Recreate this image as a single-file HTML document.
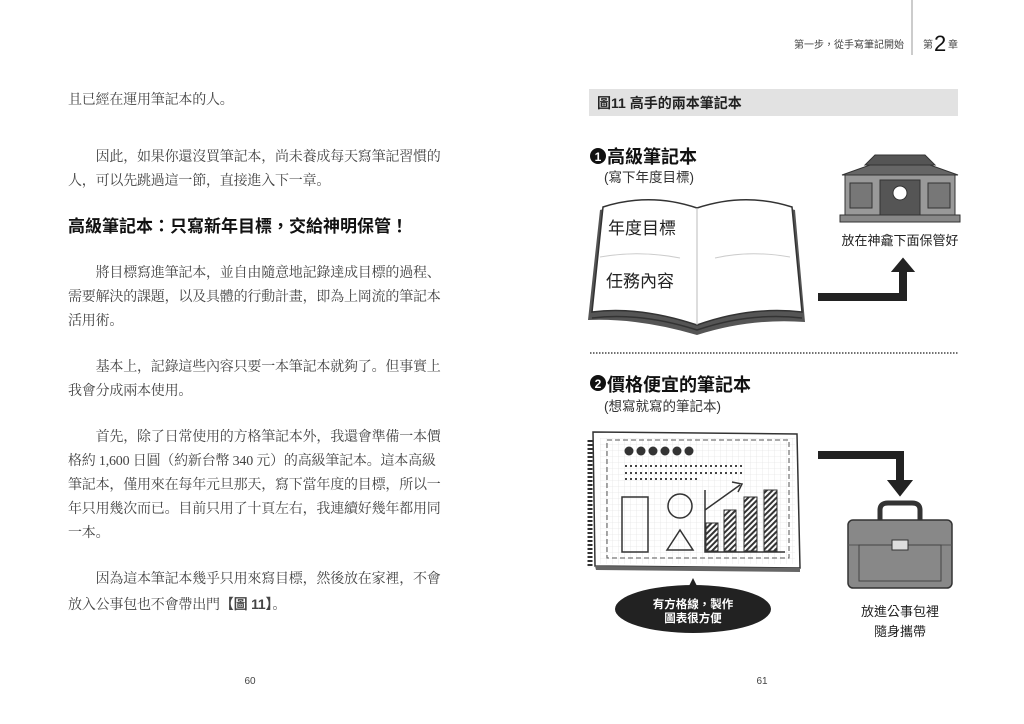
<!DOCTYPE html>
<html><head><meta charset="utf-8"><style>
html,body{margin:0;padding:0;background:#fff;}
body{width:1024px;height:724px;position:relative;overflow:hidden;font-family:"Liberation Serif","Noto Serif CJK SC","Noto Sans CJK TC",serif;color:#444;}
.l{position:absolute;left:68px;font-size:14px;white-space:nowrap;letter-spacing:-0.2px;line-height:16px;}
.h{font-family:"Liberation Sans","Noto Sans CJK TC",sans-serif;font-weight:bold;font-size:17px;color:#111;letter-spacing:0;}
svg{position:absolute;left:0;top:0;}
</style></head><body>
<div class="l" style="top:93px">且已經在運用筆記本的人。</div>
<div class="l" style="top:150px">　　因此，如果你還沒買筆記本，尚未養成每天寫筆記習慣的</div>
<div class="l" style="top:174px">人，可以先跳過這一節，直接進入下一章。</div>
<div class="l h" style="top:219px">高級筆記本：只寫新年目標，交給神明保管！</div>
<div class="l" style="top:266px">　　將目標寫進筆記本，並自由隨意地記錄達成目標的過程、</div>
<div class="l" style="top:290px">需要解決的課題，以及具體的行動計畫，即為上岡流的筆記本</div>
<div class="l" style="top:314px">活用術。</div>
<div class="l" style="top:360px">　　基本上，記錄這些內容只要一本筆記本就夠了。但事實上</div>
<div class="l" style="top:384px">我會分成兩本使用。</div>
<div class="l" style="top:430px">　　首先，除了日常使用的方格筆記本外，我還會準備一本價</div>
<div class="l" style="top:454px">格約 1,600 日圓（約新台幣 340 元）的高級筆記本。這本高級</div>
<div class="l" style="top:478px">筆記本，僅用來在每年元旦那天，寫下當年度的目標，所以一</div>
<div class="l" style="top:502px">年只用幾次而已。目前只用了十頁左右，我連續好幾年都用同</div>
<div class="l" style="top:526px">一本。</div>
<div class="l" style="top:572px">　　因為這本筆記本幾乎只用來寫目標，然後放在家裡，不會</div>
<div class="l" style="top:596px">放入公事包也不會帶出門<b style="font-family:'Liberation Sans','Noto Sans CJK TC',sans-serif">【圖 11】</b>。</div>

<svg width="1024" height="724" font-family="Liberation Sans, Noto Sans CJK TC, sans-serif">
<text x="250" y="684" font-size="10" fill="#444" text-anchor="middle">60</text>
<text x="762" y="684" font-size="10" fill="#444" text-anchor="middle">61</text>
<text x="904" y="48" font-size="10" fill="#444" text-anchor="end">第一步，從手寫筆記開始</text>
<line x1="912" y1="0" x2="912" y2="55" stroke="#999" stroke-width="1"/>
<text x="923" y="48" font-size="10" fill="#444">第</text><text x="934" y="51" font-size="22" fill="#111">2</text><text x="948" y="48" font-size="10" fill="#444">章</text>

<rect x="589" y="89" width="369" height="27" fill="#e2e2e2"/>
<text x="597" y="108" font-size="14" font-weight="bold" fill="#222">圖11  高手的兩本筆記本</text>

<circle cx="598" cy="156" r="8" fill="#111"/><text x="598" y="161" font-size="12" font-weight="bold" fill="#fff" text-anchor="middle">1</text>
<text x="607" y="163" font-size="18" fill="#111" font-weight="bold">高級筆記本</text>
<text x="604" y="182" font-size="13.5" fill="#333">(寫下年度目標)</text>

<path d="M588,320 L600,210 Q650,195 697,212 Q745,195 795,210 L805,322 Q750,318 697,335 Q640,318 588,320Z" fill="#555"/>
<path d="M592,312 L603,207 Q650,192 697,208 Q745,192 792,207 L802,312 Q750,306 697,325 Q640,306 592,312Z" fill="#fff" stroke="#333" stroke-width="1.5"/>
<line x1="697" y1="208" x2="697" y2="325" stroke="#bbb"/>
<path d="M600,257 Q640,250 680,258 M715,258 Q750,250 790,257" stroke="#ccc" fill="none"/>
<path d="M592,318 Q640,312 697,330 Q750,312 802,318" stroke="#333" fill="none" stroke-width="1.5"/>
<text x="608" y="234" font-size="17" fill="#222">年度目標</text>
<text x="606" y="287" font-size="17" fill="#222">任務內容</text>

<g fill="#888" stroke="#333" stroke-width="1">
<rect x="845" y="175" width="110" height="40" fill="#999"/>
<path d="M842,175 L870,165 L930,165 L958,175Z" fill="#666"/>
<path d="M865,165 L875,155 L925,155 L935,165Z" fill="#555"/>
<rect x="880" y="180" width="40" height="35" fill="#555"/>
<circle cx="900" cy="193" r="7" fill="#fff"/>
<rect x="850" y="183" width="22" height="25" fill="#777"/><rect x="928" y="183" width="22" height="25" fill="#777"/>
<rect x="840" y="215" width="120" height="7" fill="#888"/>
</g>
<text x="900" y="245" font-size="13" fill="#222" text-anchor="middle">放在神龕下面保管好</text>

<path d="M818,297 L903,297 L903,270" stroke="#222" stroke-width="8" fill="none"/>
<path d="M893,271 L903,259 L913,271Z" fill="#222" stroke="#222" stroke-width="2"/>

<line x1="590" y1="353" x2="958" y2="353" stroke="#444" stroke-width="1.5" stroke-dasharray="1.5,1.5"/>

<circle cx="598" cy="383" r="8" fill="#111"/><text x="598" y="388" font-size="12" font-weight="bold" fill="#fff" text-anchor="middle">2</text>
<text x="607" y="391" font-size="18" fill="#111" font-weight="bold">價格便宜的筆記本</text>
<text x="604" y="411" font-size="13.5" fill="#333">(想寫就寫的筆記本)</text>

<defs><pattern id="g" width="6" height="6" patternUnits="userSpaceOnUse"><path d="M6,0 L0,0 0,6" fill="none" stroke="#ddd" stroke-width="0.6"/></pattern>
<pattern id="hs" width="4" height="4" patternUnits="userSpaceOnUse" patternTransform="rotate(45)"><rect width="2" height="4" fill="#333"/></pattern></defs>
<path d="M593,432 L797,434 L800,568 L595,566Z" fill="#fff" stroke="#333" stroke-width="1.5"/>
<path d="M595,566 L800,568 L800,572 L596,570Z" fill="#666"/>
<rect x="600" y="438" width="195" height="126" fill="url(#g)"/>
<rect x="607" y="440" width="182" height="118" fill="none" stroke="#555" stroke-dasharray="5,3"/>
<path d="M590,440 v128" stroke="#333" stroke-dasharray="2,2" stroke-width="5" fill="none"/>
<g fill="#333"><circle cx="629" cy="451" r="4.5"/><circle cx="641" cy="451" r="4.5"/><circle cx="653" cy="451" r="4.5"/><circle cx="665" cy="451" r="4.5"/><circle cx="677" cy="451" r="4.5"/><circle cx="689" cy="451" r="4.5"/></g>
<g stroke="#444" stroke-width="2" stroke-dasharray="2,3"><line x1="625" y1="466" x2="745" y2="466"/><line x1="625" y1="473" x2="745" y2="473"/><line x1="625" y1="479" x2="700" y2="479"/></g>
<g stroke="#333" stroke-width="1.5" fill="none">
<rect x="622" y="497" width="26" height="55"/><circle cx="680" cy="506" r="12"/><path d="M667,550 L680,530 L693,550Z"/>
<path d="M705,490 V552 H785"/><path d="M705,510 L740,485"/><path d="M732,482 L742,484 L738,492"/></g>
<g fill="url(#hs)" stroke="#333"><rect x="706" y="523" width="12" height="28"/><rect x="724" y="510" width="12" height="41"/><rect x="744" y="497" width="13" height="54"/><rect x="764" y="490" width="13" height="61"/></g>

<path d="M686,592 L693,578 L700,592Z" fill="#222"/>
<ellipse cx="693" cy="609" rx="78" ry="24" fill="#222"/>
<text x="693" y="608" font-size="11.5" fill="#fff" text-anchor="middle" font-weight="bold">有方格線，製作</text>
<text x="693" y="622" font-size="11.5" fill="#fff" text-anchor="middle" font-weight="bold">圖表很方便</text>

<path d="M818,455 L900,455 L900,482" stroke="#222" stroke-width="8" fill="none"/>
<path d="M889,481 L900,495 L911,481Z" fill="#222" stroke="#222" stroke-width="2"/>

<path d="M880,520 V510 Q880,503 888,503 H912 Q920,503 920,510 V520" fill="none" stroke="#333" stroke-width="5"/>
<rect x="848" y="520" width="104" height="68" rx="5" fill="#888" stroke="#333" stroke-width="1.5"/>
<path d="M848,545 H952" stroke="#555"/>
<rect x="859" y="545" width="82" height="36" fill="none" stroke="#444"/>
<rect x="892" y="540" width="16" height="10" fill="#ddd" stroke="#333"/>
<text x="900" y="616" font-size="13" fill="#222" text-anchor="middle">放進公事包裡</text>
<text x="900" y="636" font-size="13" fill="#222" text-anchor="middle">隨身攜帶</text>
</svg>
</body></html>
